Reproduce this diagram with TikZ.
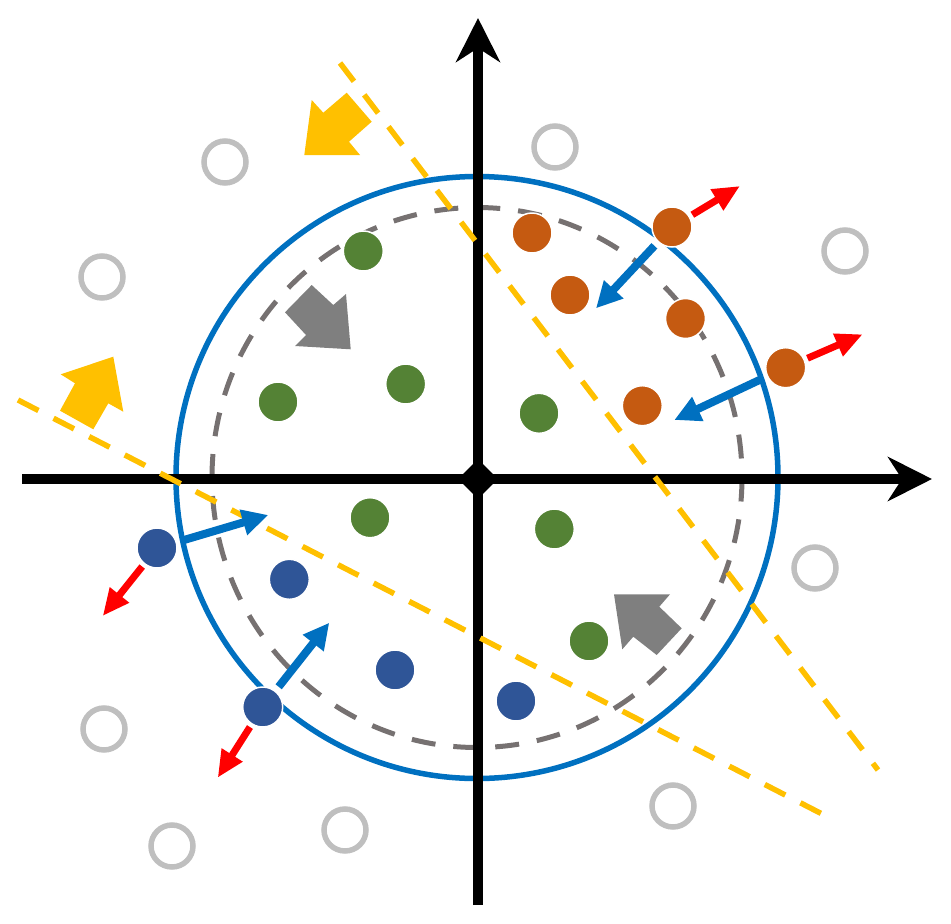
\documentclass[tikz,border=0pt]{standalone}
\usetikzlibrary{arrows.meta,shapes.geometric}
\definecolor{cOrange}{HTML}{C55A11}
\definecolor{cGreen}{HTML}{548235}
\definecolor{cNavy}{HTML}{2F5597}
\definecolor{cBlue}{HTML}{0070C0}
\definecolor{cYellow}{HTML}{FFC000}
\definecolor{cDash}{HTML}{767171}
\definecolor{cBlock}{HTML}{7F7F7F}
\definecolor{cEmpty}{HTML}{BFBFBF}
\definecolor{cRed}{HTML}{FF0000}
\begin{document}
\begin{tikzpicture}[x=1pt,y=-1pt,
 dot/.style={circle, minimum size=40pt, inner sep=0pt, draw=white, line width=1.5pt, fill=#1},
 emptydot/.style={circle, minimum size=42pt, inner sep=0pt, draw=cEmpty, line width=5.5pt},
 axis/.style={line width=9.5pt, -{Stealth[length=44pt,width=44pt,inset=14pt]}},
 pull/.style={cBlue, line width=8pt, -{Triangle[length=26pt,width=25pt]}, shorten <=5pt},
 push/.style={cRed, line width=7pt, -{Triangle[length=27pt,width=23pt]}, shorten <=3pt},
 sep/.style={cYellow, line width=5.5pt, dash pattern=on 23pt off 17pt},
 boundary/.style={cBlue, line width=5.5pt},
 inner boundary/.style={cDash, line width=5pt, dash pattern=on 24pt off 18pt},
 blockarrow/.style={fill=#1}
]
\useasboundingbox (0,0) rectangle (951,924);

% empty (gray) points
\node[emptydot] (e1) at (225,162) {};
\node[emptydot] (e2) at (555,147) {};
\node[emptydot] (e3) at (102,277) {};
\node[emptydot] (e4) at (845,251) {};
\node[emptydot] (e5) at (815,568) {};
\node[emptydot] (e6) at (104,729) {};
\node[emptydot] (e7) at (673,806) {};
\node[emptydot] (e8) at (345,830) {};
\node[emptydot] (e9) at (172,846) {};

% circles
\draw[boundary] (477,477.5) circle[radius=301];
\draw[inner boundary] (477,477.5) ellipse[x radius=265, y radius=270];

% axes
\coordinate (xl) at (22,479);
\coordinate (xr) at (932,479);
\coordinate (yb) at (478,905);
\coordinate (yt) at (478,18);
\draw[axis] (xl) -- (xr);
\draw[axis] (yb) -- (yt);
\node[diamond, fill=black, minimum size=40pt, inner sep=0pt] (o) at (478,479) {};

% separating lines
\coordinate (s1a) at (340,63);
\coordinate (s1b) at (878,770);
\coordinate (s2a) at (18,400);
\coordinate (s2b) at (826,816);
\draw[sep] (s1a) -- (s1b);
\draw[sep] (s2a) -- (s2b);

% block arrows
\fill[blockarrow=cYellow] (304.3,155) -- (311.7,100) -- (323.3,112.7) -- (346.7,92.7) -- (371.7,121.7) -- (349,141.7) -- (360,155) -- cycle;
\fill[blockarrow=cYellow] (113.3,356.7) -- (60.7,374.3) -- (75,383.3) -- (60,410.7) -- (93.3,429.3) -- (108.3,403.3) -- (123.3,411.7) -- cycle;
\fill[blockarrow=cBlock] (350.7,349.3) -- (295,346) -- (306,335) -- (285,312.3) -- (311.7,285) -- (333.3,305) -- (346,294) -- cycle;
\fill[blockarrow=cBlock] (614,594.3) -- (670,594.3) -- (659.3,606.7) -- (681.7,628.3) -- (656.7,655) -- (633.3,636.7) -- (622.3,649.3) -- cycle;

% orange points
\node[dot=cOrange] (o1) at (532,233) {};
\node[dot=cOrange] (o2) at (570,295) {};
\node[dot=cOrange] (o3) at (672,227) {};
\node[dot=cOrange] (o4) at (685.5,318.5) {};
\node[dot=cOrange] (o5) at (642.3,405.7) {};
\node[dot=cOrange] (o6) at (785.7,367.7) {};
% green points
\node[dot=cGreen] (g1) at (363.3,251) {};
\node[dot=cGreen] (g2) at (278,402) {};
\node[dot=cGreen] (g3) at (405.7,384) {};
\node[dot=cGreen] (g4) at (539,413.3) {};
\node[dot=cGreen] (g5) at (370,517.7) {};
\node[dot=cGreen] (g6) at (554.3,529) {};
\node[dot=cGreen] (g7) at (589,641) {};
% navy points
\node[dot=cNavy] (b1) at (157,548) {};
\node[dot=cNavy] (b2) at (289.3,579.3) {};
\node[dot=cNavy] (b3) at (395,670) {};
\node[dot=cNavy] (b4) at (516,701) {};
\node[dot=cNavy] (b5) at (262.7,707) {};

% arrow targets
\coordinate (p3) at (596,308.3);
\coordinate (p6) at (674.3,420);
\coordinate (pb1) at (268.3,515);
\coordinate (pb5) at (329.3,622.7);
\coordinate (q3) at (740,186);
\coordinate (q6) at (862.7,334.3);
\coordinate (qb1) at (102.7,616);
\coordinate (qb5) at (217.7,777.7);

\draw[pull] (o3) -- (p3);
\draw[pull] (o6) -- (p6);
\draw[pull] (b1) -- (pb1);
\draw[pull] (b5) -- (pb5);
\draw[push] (o3) -- (q3);
\draw[push] (o6) -- (q6);
\draw[push] (b1) -- (qb1);
\draw[push] (b5) -- (qb5);
\end{tikzpicture}
\end{document}
